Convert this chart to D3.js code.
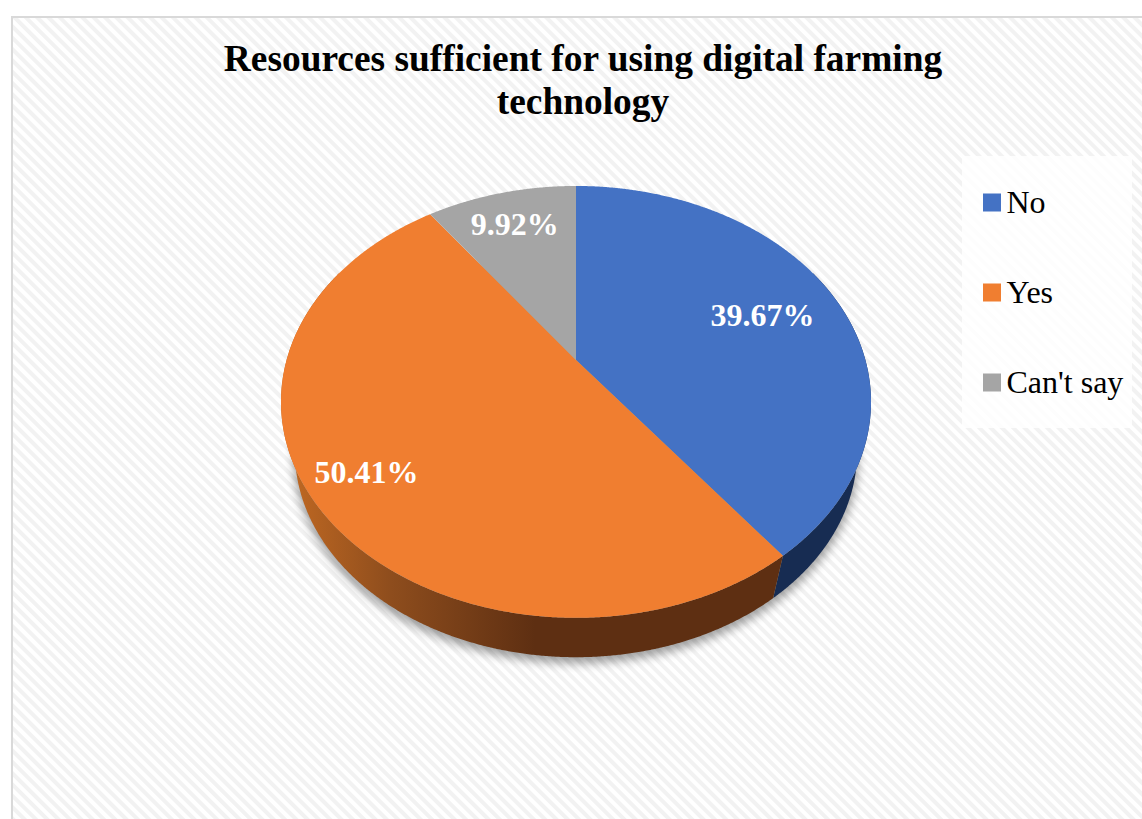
<!DOCTYPE html>
<html>
<head>
<meta charset="utf-8">
<style>
html, body { margin: 0; padding: 0; background: #fff; }
svg { display: block; }
text { font-family: "Liberation Serif", "Times New Roman", serif; }
</style>
<script src="https://cdn.jsdelivr.net/npm/d3@7/dist/d3.min.js"></script>
</head>
<body>
<svg id="chart" width="1142" height="819"></svg>
<script>
// Chart content
const categories = ["No", "Yes", "Can't say"];
const shares = [39.67, 50.41, 9.92];
const shareLabels = ["39.67%", "50.41%", "9.92%"];
const titleLines = ["Resources sufficient for using digital farming", "technology"];
const faceColors = ["#4472C4", "#F07E30", "#A5A5A5"];

const svg = d3.select("#chart");
const defs = svg.append("defs");
const serif = '"Liberation Serif", "Times New Roman", serif';

// Hatched chart area background
const hatch = defs.append("pattern")
  .attr("id", "hatch").attr("patternUnits", "userSpaceOnUse")
  .attr("width", 8).attr("height", 8)
  .attr("patternTransform", "rotate(45)");
hatch.append("rect").attr("width", 8).attr("height", 8).attr("fill", "#ffffff");
hatch.append("rect").attr("width", 8).attr("height", 4).attr("fill", "#f2f2f2");

svg.append("rect")
  .attr("x", 12).attr("y", 17).attr("width", 1132).attr("height", 804)
  .attr("fill", "url(#hatch)").attr("stroke", "#d9d9d9").attr("stroke-width", 2);

// Tilted pie: the disc is a perspective view of a unit circle
const tilt = 0.194;
const discTop = { cx: 576, cy: 360, rx: 289.4, ry: 207.8, scale: 1 };
const discBase = { cx: 576, cy: 411.5, rx: 289.4, ry: 207.8, scale: 0.953 };

function project(disc, angle, r = 1) {
  const u = r * Math.sin(angle), v = -r * Math.cos(angle);
  const w = 1 - tilt * v;
  return [disc.cx + disc.scale * disc.rx * u / w, disc.cy + disc.scale * disc.ry * v / w];
}
const arcAngles = (a0, a1) => {
  const n = Math.max(2, Math.ceil(Math.abs(a1 - a0) / 0.005));
  return d3.range(n + 1).map(i => a0 + (a1 - a0) * i / n);
};

const slices = d3.pie().sort(null).value(d => d)(shares);
const color = d3.scaleOrdinal().domain(categories).range(faceColors);
const outline = d3.line();

// Soft shadow cast under the pie
const shadow = defs.append("filter").attr("id", "soft")
  .attr("x", "-10%").attr("y", "-10%").attr("width", "120%").attr("height", "120%");
shadow.append("feGaussianBlur").attr("stdDeviation", 5);

const fullTurn = arcAngles(0, 2 * Math.PI);
svg.append("path")
  .attr("d", outline(fullTurn.map(a => project({ ...discBase, cy: discBase.cy + 5, scale: discBase.scale * 1.005 }, a))) + "Z")
  .attr("fill", "#000").attr("opacity", 0.36).attr("filter", "url(#soft)");

// Shaded rim of the disc
const rimShade = defs.append("linearGradient")
  .attr("id", "rimShade").attr("gradientUnits", "userSpaceOnUse")
  .attr("x1", 295).attr("x2", 535).attr("y1", 0).attr("y2", 0);
rimShade.append("stop").attr("offset", 0).attr("stop-color", "#bd6722");
rimShade.append("stop").attr("offset", 0.4).attr("stop-color", "#8e4d1d");
rimShade.append("stop").attr("offset", 1).attr("stop-color", "#5e2f12");

function rimPath(a0, a1) {
  const angles = arcAngles(a0, a1);
  const upper = angles.map(a => project(discTop, a));
  const lower = angles.slice().reverse().map(a => project(discBase, a));
  return outline(upper.concat(lower)) + "Z";
}
const rimStart = Math.PI * 0.35, rimEnd = Math.PI * 1.65;
svg.append("path")
  .attr("d", rimPath(rimStart, slices[0].endAngle))
  .attr("fill", "#172c52");
svg.append("path")
  .attr("d", rimPath(slices[1].startAngle, rimEnd))
  .attr("fill", "url(#rimShade)");

// Top faces
svg.append("g").selectAll("path").data(slices).join("path")
  .attr("d", d => outline([[discTop.cx, discTop.cy]].concat(
    arcAngles(d.startAngle, d.endAngle).map(a => project(discTop, a)))) + "Z")
  .attr("fill", (d, i) => color(categories[i]));

// Value labels
const labelReach = [0.71, 0.815, 0.79];
svg.append("g").selectAll("text").data(slices).join("text")
  .attr("transform", (d, i) => {
    const p = project(discTop, (d.startAngle + d.endAngle) / 2, labelReach[i]);
    return `translate(${p[0]},${p[1]})`;
  })
  .attr("dy", "0.36em")
  .attr("text-anchor", "middle")
  .attr("font-family", serif).attr("font-weight", "bold").attr("font-size", 32)
  .attr("fill", "#fff")
  .text((d, i) => shareLabels[i]);

// Title
svg.append("g").selectAll("text").data(titleLines).join("text")
  .attr("x", 583)
  .attr("y", (d, i) => 71 + i * 43)
  .attr("text-anchor", "middle")
  .attr("font-family", serif).attr("font-weight", "bold").attr("font-size", 37.4)
  .attr("fill", "#000")
  .text(d => d);

// Legend
svg.append("rect")
  .attr("x", 962).attr("y", 156).attr("width", 170).attr("height", 272)
  .attr("fill", "#fff").attr("opacity", 0.85);

const legendY = d3.scalePoint().domain(categories).range([202.5, 382.5]);
const legend = svg.append("g").selectAll("g").data(categories).join("g")
  .attr("transform", d => `translate(983,${legendY(d)})`);
legend.append("rect")
  .attr("x", 0).attr("y", -9).attr("width", 18).attr("height", 18)
  .attr("fill", d => color(d));
legend.append("text")
  .attr("x", 23.5).attr("dy", "0.32em")
  .attr("font-family", serif).attr("font-size", 32)
  .attr("fill", "#000")
  .text(d => d);
</script>
</body>
</html>
